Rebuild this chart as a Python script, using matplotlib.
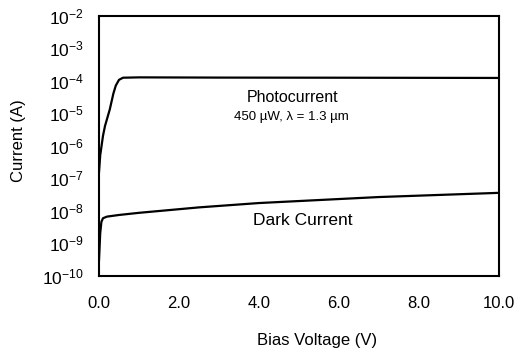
import matplotlib
matplotlib.use("Agg")
import matplotlib.pyplot as plt
from matplotlib.ticker import FixedLocator

plt.rcParams['font.family'] = ['Liberation Sans', 'DejaVu Sans']
plt.rcParams['mathtext.fontset'] = 'custom'
plt.rcParams['mathtext.rm'] = 'Liberation Sans'
plt.rcParams['mathtext.it'] = 'Liberation Sans:italic'
plt.rcParams['mathtext.bf'] = 'Liberation Sans:bold'

# Data
photo_v = [0.0, 0.03, 0.1, 0.15, 0.27, 0.36, 0.42, 0.5, 0.6, 1.0, 3.0, 6.0, 10.0]
photo_i = [1.5e-7, 5e-7, 2e-6, 4e-6, 1.3e-5, 4e-5, 7e-5, 1.05e-4, 1.22e-4, 1.25e-4, 1.23e-4, 1.22e-4, 1.2e-4]

dark_v = [0.0, 0.03, 0.06, 0.1, 0.2, 0.5, 1.0, 2.5, 4.0, 7.0, 10.0]
dark_i = [3e-10, 2e-9, 4.5e-9, 5.8e-9, 6.5e-9, 7.3e-9, 8.5e-9, 1.25e-8, 1.7e-8, 2.6e-8, 3.5e-8]

x_ticks = [0, 2, 4, 6, 8, 10]
x_tick_labels = ["0.0", "2.0", "4.0", "6.0", "8.0", "10.0"]
y_exponents = list(range(-10, -1))

fig = plt.figure(figsize=(5.17, 3.51), dpi=100)
ax = fig.add_axes([0.1915, 0.215, 0.7735, 0.7408])

ax.plot(photo_v, photo_i, color='black', lw=1.6)
ax.plot(dark_v, dark_i, color='black', lw=1.6)

ax.set_yscale('log')
ax.set_xlim(0, 10)
ax.set_ylim(1e-10, 1e-2)
ax.set_xticks(x_ticks)
ax.set_xticklabels(x_tick_labels)
ax.yaxis.set_major_locator(FixedLocator([10.0**e for e in y_exponents]))
ax.set_yticklabels([r'$\mathregular{10^{%d}}$' % e for e in y_exponents])
ax.yaxis.set_minor_locator(FixedLocator([]))
ax.tick_params(axis='y', length=0, labelsize=12.5, pad=11)
ax.tick_params(axis='x', length=0, labelsize=12, pad=15)
for s in ax.spines.values():
    s.set_linewidth(1.5)

ax.set_ylabel('Current (A)', fontsize=12)
ax.yaxis.set_label_coords(-0.183, 0.52)
ax.set_xlabel('Bias Voltage (V)', fontsize=12)
ax.xaxis.set_label_coords(0.545, -0.222)

ax.text(4.85, 3.0e-5, 'Photocurrent', fontsize=11.5, ha='center', va='center')
ax.text(4.8, 7.4e-6, '450 \u00b5W, \u03bb = 1.3 \u00b5m', fontsize=9.5, ha='center', va='center')
ax.text(5.1, 5.0e-9, 'Dark Current', fontsize=12.5, ha='center', va='center')

fig.savefig('out.png', dpi=100)
